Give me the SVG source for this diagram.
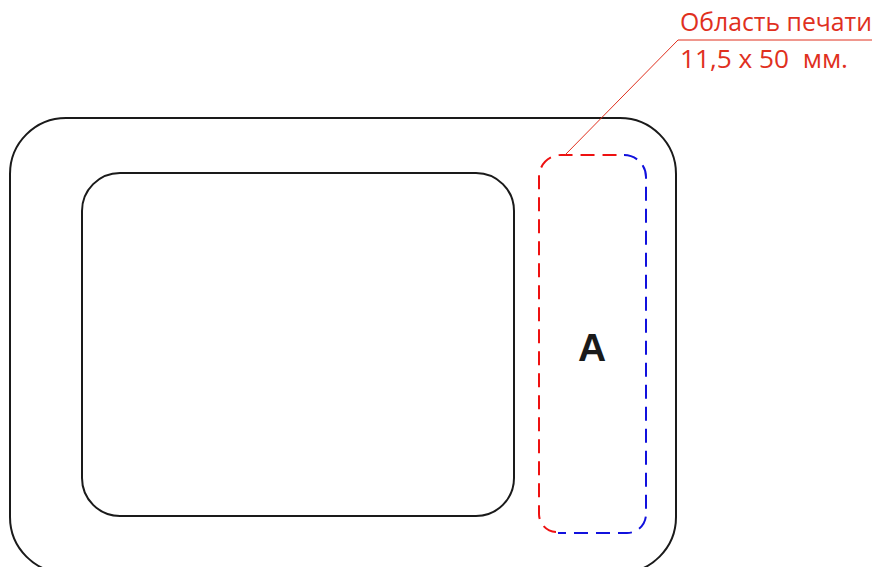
<svg xmlns="http://www.w3.org/2000/svg" width="876" height="567" viewBox="0 0 876 567">
<style>
.body{fill:none;stroke:#1a1a1a;stroke-width:2}
.dash{fill:none;stroke-width:2;stroke-dasharray:14 8}
.lbl{font-family:"Open Sans","Liberation Sans",sans-serif;font-size:25px;fill:#e0301e}
.lead{fill:none;stroke:#e0301e;stroke-width:1}
</style>
<rect width="876" height="567" fill="#fff"/>
<g id="outer"><rect class="body" x="10" y="118" width="666" height="455" rx="56" ry="56"/></g>
<g id="inner"><rect class="body" x="82" y="173" width="432" height="343" rx="38" ry="38"/></g>
<g id="area">
<path class="dash" stroke="#ee1111" d="M556,532 A18,18 0 0 1 539,514 L539,177 A22,22 0 0 1 561,155 L624,155"/>
<path class="dash" stroke="#1111dd" d="M624,155 A22,22 0 0 1 646,177 L646,514 A19,19 0 0 1 627,533 L558,533"/>
<text x="592" y="361" font-family="Liberation Sans, Arial, sans-serif" font-weight="bold" font-size="39" fill="#1a1a1a" text-anchor="middle">A</text>
</g>
<g id="connectors">
<polyline class="lead" points="565,155 678,40 872,40"/>
</g>
<g id="label">
<text class="lbl" x="680" y="31" textLength="192" lengthAdjust="spacingAndGlyphs">Область печати</text>
<text class="lbl" x="680" y="68" xml:space="preserve" textLength="168" lengthAdjust="spacingAndGlyphs">11,5 x 50  мм.</text>
</g>
</svg>
